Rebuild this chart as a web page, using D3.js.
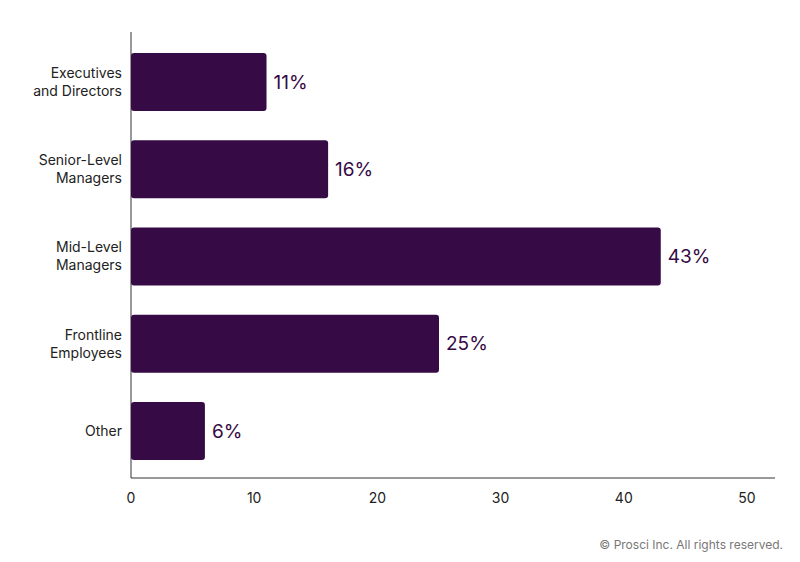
<!DOCTYPE html>
<html><head><meta charset="utf-8">
<script src="https://cdn.jsdelivr.net/npm/d3@7"></script>
<style>body{margin:0;background:#fff;font-family:Inter,"Open Sans",sans-serif}</style>
</head><body><svg id="chart" width="800" height="562"></svg>
<script>
// data
var categories = [["Executives", "and Directors"], ["Senior-Level", "Managers"], ["Mid-Level", "Managers"], ["Frontline", "Employees"], ["Other"]];
var values = [11, 16, 43, 25, 6];
var ticks = [0, 10, 20, 30, 40, 50];

var svg = d3.select('#chart');
var color = '#360a45';
var x = d3.scaleLinear().domain([0, 50]).range([131, 747]);
var y = d3.scaleBand().domain(d3.range(values.length)).range([38.4, 474.6]).paddingInner(0.335).paddingOuter(0.1675);

// axis lines
svg.append('line').attr('x1', 131).attr('x2', 131).attr('y1', 32).attr('y2', 478).attr('stroke', '#333').attr('stroke-width', 1);
svg.append('line').attr('x1', 131).attr('x2', 775).attr('y1', 478).attr('y2', 478).attr('stroke', '#333').attr('stroke-width', 1);

svg.selectAll('rect.bar').data(values).enter().append('rect')
  .attr('x', x(0)).attr('y', function(d, i){ return y(i); })
  .attr('width', function(d){ return x(d) - x(0); }).attr('height', y.bandwidth())
  .attr('rx', 3).attr('fill', color);

svg.selectAll('text.val').data(values).enter().append('text')
  .attr('x', function(d){ return x(d) + 7; }).attr('y', function(d, i){ return y(i) + y.bandwidth() / 2; })
  .attr('dy', '0.35em').attr('font-size', 19).attr('fill', color).text(function(d){ return d + '%'; });

svg.selectAll('text.cat').data(categories).enter().append('text')
  .attr('text-anchor', 'end').attr('font-size', 14).attr('fill', '#222')
  .each(function(lines, i){
    var cy = y(i) + y.bandwidth() / 2;
    var t = d3.select(this);
    lines.forEach(function(l, k){
      t.append('tspan').attr('x', 122).attr('y', cy + (k - (lines.length - 1) / 2) * 18).attr('dy', '0.35em').text(l);
    });
  });

svg.selectAll('text.tick').data(ticks).enter().append('text')
  .attr('x', function(d){ return x(d); }).attr('y', 503).attr('text-anchor', 'middle')
  .attr('font-size', 14).attr('fill', '#222').text(function(d){ return d; });

svg.append('text').attr('x', 783).attr('y', 549).attr('text-anchor', 'end')
  .attr('font-size', 12).attr('fill', '#777').text('© Prosci Inc. All rights reserved.');
</script></body></html>
